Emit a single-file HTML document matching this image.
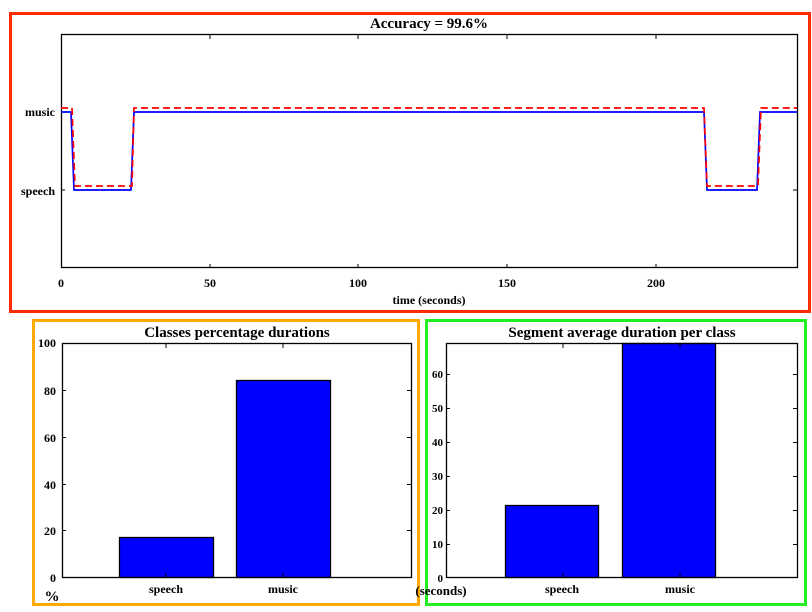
<!DOCTYPE html>
<html><head><style>body{margin:0;background:#fff}svg{display:block}text{font-family:"Liberation Serif",serif;font-weight:bold;fill:#000}</style></head><body>
<svg width="812" height="612" xmlns="http://www.w3.org/2000/svg" font-size="12">
<rect width="812" height="612" fill="#fff"/>
<rect x="10.5" y="13.5" width="799" height="298" fill="none" stroke="#ff2a00" stroke-width="3"/>
<rect x="33.5" y="320.5" width="385" height="284" fill="none" stroke="#ffaa00" stroke-width="3"/>
<rect x="426.5" y="320.5" width="379" height="284" fill="none" stroke="#22ee22" stroke-width="3"/>
<!-- top -->
<text x="429" y="28" text-anchor="middle" font-size="15">Accuracy = 99.6%</text>
<rect x="61.5" y="34.5" width="736" height="233" fill="none" stroke="#000" stroke-width="1.3"/>
<g stroke="#000"><line x1="61.5" y1="112" x2="65" y2="112"/><line x1="61.5" y1="190" x2="65" y2="190"/><line x1="797" y1="112" x2="793" y2="112"/><line x1="797" y1="190" x2="793" y2="190"/>
<line x1="210" y1="268" x2="210" y2="264"/><line x1="358" y1="268" x2="358" y2="264"/><line x1="507" y1="268" x2="507" y2="264"/><line x1="656" y1="268" x2="656" y2="264"/>
<line x1="210" y1="35" x2="210" y2="39"/><line x1="358" y1="35" x2="358" y2="39"/><line x1="507" y1="35" x2="507" y2="39"/><line x1="656" y1="35" x2="656" y2="39"/></g>
<text x="55" y="116" text-anchor="end">music</text><text x="55" y="195" text-anchor="end">speech</text>
<text x="61" y="287" text-anchor="middle">0</text><text x="210" y="287" text-anchor="middle">50</text><text x="358" y="287" text-anchor="middle">100</text><text x="507" y="287" text-anchor="middle">150</text><text x="656" y="287" text-anchor="middle">200</text>
<text x="429" y="304" text-anchor="middle">time (seconds)</text>
<polyline points="61,112 71,112 74,190 131,190 134,112 704,112 707,190 757,190 760,112 797,112" fill="none" stroke="#0000ff" stroke-width="1.7"/>
<polyline points="61,108 72,108 75,186 132,186 134,108 704,108 707,186 758,186 761,108 797,108" fill="none" stroke="#ff0000" stroke-width="1.7" stroke-dasharray="7,4"/>
<!-- bottom left -->
<text x="237" y="337" text-anchor="middle" font-size="15">Classes percentage durations</text>
<rect x="119.5" y="537.5" width="94" height="40" fill="#0000ff" stroke="#000" stroke-width="1.3"/>
<rect x="236.5" y="380.5" width="94" height="197" fill="#0000ff" stroke="#000" stroke-width="1.3"/>
<rect x="62.5" y="343.5" width="349" height="234" fill="none" stroke="#000" stroke-width="1.3"/>
<g stroke="#000"><line x1="62" y1="530.5" x2="66" y2="530.5"/><line x1="62" y1="484.5" x2="66" y2="484.5"/><line x1="62" y1="437.5" x2="66" y2="437.5"/><line x1="62" y1="390.5" x2="66" y2="390.5"/>
<line x1="411" y1="530.5" x2="407" y2="530.5"/><line x1="411" y1="484.5" x2="407" y2="484.5"/><line x1="411" y1="437.5" x2="407" y2="437.5"/><line x1="411" y1="390.5" x2="407" y2="390.5"/>
<line x1="166" y1="577" x2="166" y2="573"/><line x1="283" y1="577" x2="283" y2="573"/><line x1="166" y1="344" x2="166" y2="348"/><line x1="283" y1="344" x2="283" y2="348"/></g>
<g text-anchor="end"><text x="56" y="582">0</text><text x="56" y="535">20</text><text x="56" y="489">40</text><text x="56" y="442">60</text><text x="56" y="395">80</text><text x="56" y="347">100</text></g>
<text x="166" y="593" text-anchor="middle">speech</text><text x="283" y="593" text-anchor="middle">music</text>
<text x="52" y="601" text-anchor="middle" font-size="15">%</text>
<!-- bottom right -->
<text x="622" y="337" text-anchor="middle" font-size="15">Segment average duration per class</text>
<rect x="505.5" y="505.5" width="93" height="72" fill="#0000ff" stroke="#000" stroke-width="1.3"/>
<rect x="622.5" y="343.5" width="93" height="234" fill="#0000ff" stroke="#000" stroke-width="1.3"/>
<rect x="446.5" y="343.5" width="351" height="234" fill="none" stroke="#000" stroke-width="1.3"/>
<g stroke="#000"><line x1="446" y1="544.5" x2="450" y2="544.5"/><line x1="446" y1="510.5" x2="450" y2="510.5"/><line x1="446" y1="476.5" x2="450" y2="476.5"/><line x1="446" y1="442.5" x2="450" y2="442.5"/><line x1="446" y1="408.5" x2="450" y2="408.5"/><line x1="446" y1="374.5" x2="450" y2="374.5"/>
<line x1="797" y1="544.5" x2="793" y2="544.5"/><line x1="797" y1="510.5" x2="793" y2="510.5"/><line x1="797" y1="476.5" x2="793" y2="476.5"/><line x1="797" y1="442.5" x2="793" y2="442.5"/><line x1="797" y1="408.5" x2="793" y2="408.5"/><line x1="797" y1="374.5" x2="793" y2="374.5"/>
<line x1="563" y1="577" x2="563" y2="573"/><line x1="680" y1="577" x2="680" y2="573"/><line x1="563" y1="344" x2="563" y2="348"/><line x1="680" y1="344" x2="680" y2="348"/></g>
<g text-anchor="end" font-size="11"><text x="443" y="582">0</text><text x="443" y="548">10</text><text x="443" y="514">20</text><text x="443" y="480">30</text><text x="443" y="446">40</text><text x="443" y="412">50</text><text x="443" y="378">60</text></g>
<text x="562" y="593" text-anchor="middle">speech</text><text x="680" y="593" text-anchor="middle">music</text>
<text x="441" y="595" text-anchor="middle" font-size="13">(seconds)</text>
</svg>
</body></html>
